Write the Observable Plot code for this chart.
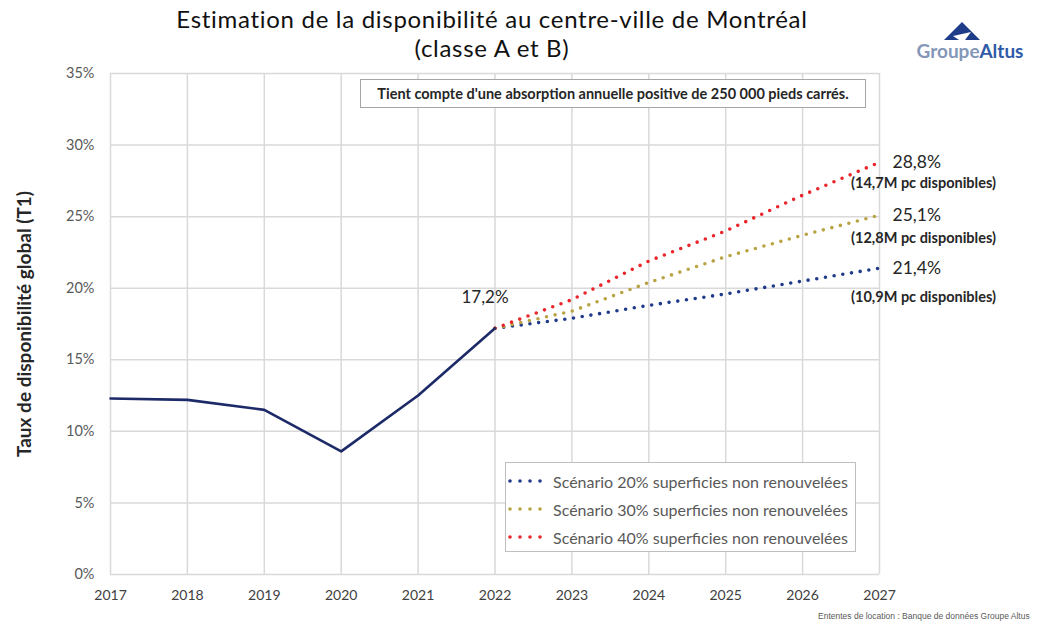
<!DOCTYPE html>
<html><head><meta charset="utf-8">
<script src="https://cdn.jsdelivr.net/npm/d3@7"></script>
<script src="https://cdn.jsdelivr.net/npm/@observablehq/plot@0.6"></script>
<style>
body{margin:0;background:#fff;font-family:Lato,"Open Sans",sans-serif;}
#wrap{position:relative;width:1042px;height:626px;overflow:hidden;}
#chart{position:absolute;left:0;top:0;}
#title{position:absolute;left:0;top:4px;width:984px;text-align:center;font-size:24px;line-height:29px;letter-spacing:0.7px;color:#111;}
#logo{position:absolute;left:905px;top:21px;width:130px;text-align:center;line-height:20px;}
#logo svg{display:block;margin-left:37px;}
#logo .t{font-size:19px;font-weight:700;}
#note{position:absolute;left:360px;top:79px;width:504px;height:27px;border:1px solid #a6a6a6;background:#fff;font-size:14.5px;font-weight:700;color:#262626;text-align:center;line-height:27px;white-space:nowrap;}
#legend{position:absolute;left:505px;top:462px;width:349px;height:88px;border:1px solid #bfbfbf;background:#fff;}
#legend .row{display:flex;align-items:center;height:28px;font-size:16px;color:#595959;white-space:nowrap;}
#legend .row:first-child{margin-top:4px;}
#legend .row svg{margin-right:7px;flex:none;}
#source{position:absolute;left:818px;top:611px;font-size:8.5px;color:#595959;font-family:"Liberation Sans",Arial,sans-serif;white-space:nowrap;}
</style></head>
<body>
<div id="wrap">
  <div id="chart"></div>
  <div id="title"></div>
  <div id="logo">
    <svg width="40" height="20" viewBox="0 0 40 20"><polygon points="20,1 38,19 2,19" fill="#1f3c88"/><polygon points="11,15 29,11 23,19 17,19" fill="#ffffff"/></svg>
    <div class="t"><span style="color:#8497b8">Groupe</span><span style="color:#2f5aa8">Altus</span></div>
  </div>
  <div id="note"></div>
  <div id="legend"></div>
  <div id="source"></div>
</div>
<script>
// ---- Data ----
const titre = ["Estimation de la disponibilité au centre-ville de Montréal", "(classe A et B)"];
const note = "Tient compte d'une absorption annuelle positive de 250 000 pieds carrés.";
const source = "Ententes de location : Banque de données Groupe Altus";
const yLabel = "Taux de disponibilité global (T1)";

const anneesHist = [2017, 2018, 2019, 2020, 2021, 2022];
const tauxHist = [12.3, 12.2, 11.5, 8.6, 12.5, 17.2];

const anneesProj = [2022, 2023, 2024, 2025, 2026, 2027];
const scen20 = [17.2, 17.9, 18.8, 19.6, 20.5, 21.4];
const scen30 = [17.2, 18.4, 20.4, 22.2, 23.7, 25.1];
const scen40 = [17.2, 19.2, 21.9, 24.0, 26.5, 28.8];

const scenarioNoms = ["Scénario 20% superficies non renouvelées", "Scénario 30% superficies non renouvelées", "Scénario 40% superficies non renouvelées"];
const scenarioValeurs = [scen20, scen30, scen40];
const scenarioCouleurs = ["#1f3a8a", "#b9a444", "#e8262c"];
const disponibles = ["(10,9M pc disponibles)", "(12,8M pc disponibles)", "(14,7M pc disponibles)"];

const xTicks = [2017, 2018, 2019, 2020, 2021, 2022, 2023, 2024, 2025, 2026, 2027];
const yTicks = [0, 5, 10, 15, 20, 25, 30, 35];

// ---- Build ----
const fmt = v => v.toFixed(1).replace(".", ",") + "%";
const hist = anneesHist.map((a, i) => ({annee: a, taux: tauxHist[i]}));
const proj = scenarioValeurs.flatMap((vals, s) => anneesProj.map((a, i) => ({annee: a, taux: vals[i], s})));
const derniers = scenarioValeurs.map((vals, s) => ({annee: anneesProj[anneesProj.length - 1], taux: vals[vals.length - 1], s}));
const subOffsets = [29, 23, 21];

const marks = [
  Plot.gridX(xTicks, {stroke: "#d9d9d9", strokeOpacity: 1, strokeWidth: 1.5}),
  Plot.gridY(yTicks, {stroke: "#d9d9d9", strokeOpacity: 1, strokeWidth: 1.5}),
  Plot.axisX({ticks: xTicks, tickSize: 0, tickPadding: 16, tickFormat: d => String(d), fontSize: 14, color: "#404040", label: null}),
  Plot.axisY({ticks: yTicks, tickSize: 0, tickPadding: 16, tickFormat: d => d + "%", fontSize: 14.5, color: "#595959", label: null}),
  Plot.text([yLabel], {frameAnchor: "left", textAnchor: "middle", dx: -86, rotate: -90, fontSize: 19, fontWeight: "bold", fill: "#262626", style: "letter-spacing:0.6px"}),
  ...scenarioValeurs.map((v, s) => Plot.line(proj.filter(d => d.s === s), {
    x: "annee", y: "taux", stroke: scenarioCouleurs[s], strokeWidth: 3.6, strokeDasharray: "0 8.8", strokeLinecap: "round"
  })),
  Plot.line(hist, {x: "annee", y: "taux", stroke: "#1c2a68", strokeWidth: 2.6}),
  Plot.text(hist.slice(-1), {x: "annee", y: "taux", text: d => fmt(d.taux), dx: -10, dy: -31, fontSize: 17, fill: "#262626"}),
  ...derniers.map((d, s) => Plot.text([d], {x: "annee", y: "taux", text: d => fmt(d.taux), dx: 13, dy: 0, textAnchor: "start", fontSize: 17.5, fill: "#262626"})),
  ...derniers.map((d, s) => Plot.text([d], {x: "annee", y: "taux", text: d => disponibles[d.s], dx: 44, dy: subOffsets[s], textAnchor: "middle", fontSize: 14.5, fontWeight: "bold", fill: "#262626"}))
];

const chart = Plot.plot({
  width: 1042, height: 626,
  marginTop: 73, marginBottom: 52, marginLeft: 110, marginRight: 163,
  style: {fontFamily: "Lato, 'Open Sans', sans-serif", background: "transparent", overflow: "visible"},
  x: {domain: [2017, 2027]},
  y: {domain: [0, 35]},
  marks
});
document.getElementById("chart").appendChild(chart);

document.getElementById("title").innerHTML = titre.join("<br>");
document.getElementById("note").textContent = note;
document.getElementById("source").textContent = source;

const leg = document.getElementById("legend");
scenarioNoms.forEach((nom, s) => {
  const row = document.createElement("div");
  row.className = "row";
  row.innerHTML = `<svg width="40" height="8"><line x1="4" y1="4" x2="35" y2="4" stroke="${scenarioCouleurs[s]}" stroke-width="3.6" stroke-dasharray="0 10" stroke-linecap="round"/></svg><span>${nom}</span>`;
  leg.appendChild(row);
});
</script>
</body></html>
